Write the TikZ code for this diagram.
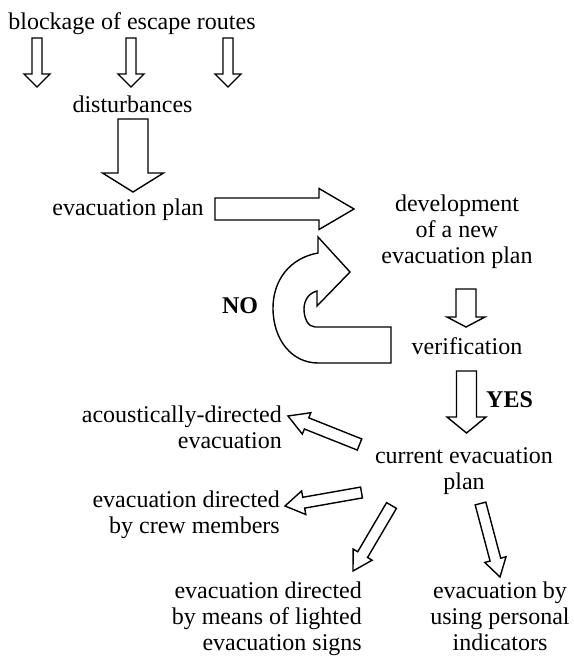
\documentclass[tikz,border=0pt]{standalone}
\usepackage{fontspec}
\setmainfont{Liberation Serif}
\usetikzlibrary{calc}
\tikzset{
  lbl/.style={inner sep=0pt, font=\fontsize{24}{26}\selectfont},
  boldlbl/.style={inner sep=0pt, font=\fontsize{24}{26}\selectfont\bfseries},
  blk/.style={draw=black, line width=1.4pt, fill=white, line join=miter},
}
% #1 tail, #2 tip, #3 half shaft width, #4 half head width, #5 head length
\newcommand\barrow[5]{%
  \coordinate (bh) at ($(#2)!#5!(#1)$);
  \draw[blk] ($(#1)!#3!90:(#2)$) -- ($(bh)!#3!90:(#2)$) -- ($(bh)!#4!90:(#2)$)
    -- (#2) -- ($(bh)!#4!-90:(#2)$) -- ($(bh)!#3!-90:(#2)$) -- ($(#1)!#3!-90:(#2)$) -- cycle;
}
\begin{document}
\begin{tikzpicture}[x=1pt,y=-1pt]
\useasboundingbox (0,0) rectangle (573,658);
% texts (anchor=base is the baseline of the last line)
\node[lbl, anchor=base] (blk) at (132,30) {blockage of escape routes};
\node[lbl, anchor=base] (dist) at (132.5,113) {disturbances};
\node[lbl, anchor=base] (ep) at (128,215) {evacuation plan};
\node[lbl, anchor=base, align=center] (dev) at (457,263) {development\\of a new\\evacuation plan};
\node[boldlbl, anchor=base] (no) at (240,313) {NO};
\node[lbl, anchor=base] (ver) at (467,354) {verification};
\node[boldlbl, anchor=base west] (yes) at (486,407) {YES};
\node[lbl, anchor=base, align=center] (cur) at (464,489) {current evacuation\\plan};
\node[lbl, anchor=base east, align=right] (ac) at (282,448) {acoustically-directed\\evacuation};
\node[lbl, anchor=base east, align=right] (crew) at (280,533) {evacuation directed\\by crew members};
\node[lbl, anchor=base east, align=right] (light) at (362,650) {evacuation directed\\by means of lighted\\evacuation signs};
\node[lbl, anchor=base, align=center] (pers) at (500,650) {evacuation by\\using personal\\indicators};
% arrow endpoints
\coordinate (a1t) at (37,38);   \coordinate (a1p) at (37,87);
\coordinate (a2t) at (131,38);  \coordinate (a2p) at (131,87);
\coordinate (a3t) at (228,38);  \coordinate (a3p) at (228,87);
\coordinate (a4t) at (133,119); \coordinate (a4p) at (133,192);
\coordinate (a5t) at (215,209); \coordinate (a5p) at (354,209);
\coordinate (a6t) at (466,289); \coordinate (a6p) at (466,327);
\coordinate (a7t) at (466.5,371); \coordinate (a7p) at (466.5,433);
\coordinate (a8t) at (359.5,444.5); \coordinate (a8p) at (288,416);
\coordinate (a9t) at (361.5,492.5); \coordinate (a9p) at (285,506);
\coordinate (a10t) at (391.5,505.5); \coordinate (a10p) at (353,571);
\coordinate (a11t) at (480.5,503.5); \coordinate (a11p) at (500,577);
\barrow{a1t}{a1p}{5pt}{13pt}{13pt}
\barrow{a2t}{a2p}{5pt}{13pt}{13pt}
\barrow{a3t}{a3p}{5pt}{13pt}{13pt}
\barrow{a4t}{a4p}{15pt}{30.5pt}{19pt}
\barrow{a5t}{a5p}{11pt}{20.5pt}{35pt}
\barrow{a6t}{a6p}{10pt}{19pt}{10pt}
\barrow{a7t}{a7p}{10pt}{19.5pt}{16pt}
\barrow{a8t}{a8p}{6pt}{11.5pt}{20pt}
\barrow{a9t}{a9p}{5.5pt}{12pt}{19pt}
\barrow{a10t}{a10p}{5.7pt}{11pt}{19pt}
\barrow{a11t}{a11p}{5.5pt}{11pt}{18pt}
% U-turn arrow (NO loop)
\draw[blk] (318,237) -- (318,253)
  .. controls (290,258) and (273,280) .. (273,308)
  .. controls (273,340) and (292,363) .. (318,363)
  -- (391,363) -- (391,327) -- (315,327)
  .. controls (308,327) and (304,318) .. (304,309)
  .. controls (304,300) and (309,293) .. (317,291)
  -- (317,306) -- (350,272) -- cycle;
\end{tikzpicture}
\end{document}
